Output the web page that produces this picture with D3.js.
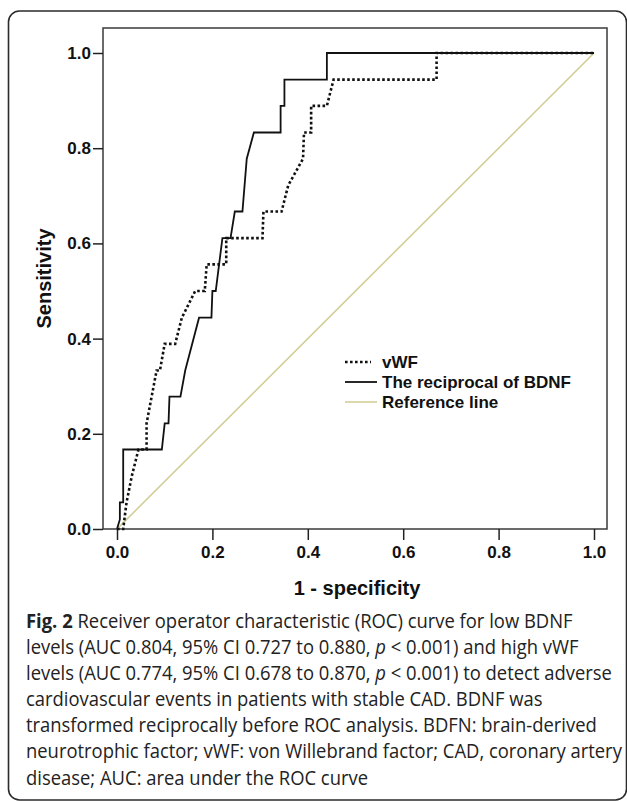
<!DOCTYPE html>
<html>
<head>
<meta charset="utf-8">
<script src="https://cdn.jsdelivr.net/npm/d3@7"></script>
<style>
  body { margin: 0; background: #fff; }
  svg { display: block; }
</style>
</head>
<body>
<svg></svg>
<script>
// ROC data (x = 1 - specificity, y = sensitivity)
const vwfX = [0, 0.013, 0.02, 0.031, 0.045, 0.062, 0.062, 0.083, 0.09, 0.1, 0.122, 0.136, 0.164, 0.184, 0.188, 0.229, 0.229, 0.305, 0.307, 0.345, 0.359, 0.39, 0.392, 0.407, 0.407, 0.44, 0.454, 0.67, 0.67, 1];
const vwfY = [0, 0, 0.056, 0.111, 0.167, 0.167, 0.222, 0.333, 0.333, 0.389, 0.389, 0.444, 0.5, 0.5, 0.556, 0.556, 0.611, 0.611, 0.667, 0.667, 0.722, 0.778, 0.833, 0.833, 0.889, 0.889, 0.944, 0.944, 1, 1];

const bdnfX = [0, 0.006, 0.006, 0.013, 0.013, 0.094, 0.1, 0.108, 0.11, 0.133, 0.143, 0.172, 0.198, 0.2, 0.207, 0.221, 0.238, 0.247, 0.263, 0.272, 0.287, 0.343, 0.343, 0.351, 0.351, 0.44, 0.44, 1];
const bdnfY = [0, 0.02, 0.056, 0.056, 0.167, 0.167, 0.222, 0.222, 0.278, 0.278, 0.333, 0.444, 0.444, 0.5, 0.5, 0.611, 0.611, 0.667, 0.667, 0.778, 0.833, 0.833, 0.889, 0.889, 0.944, 0.944, 1, 1];

const refX = [0, 1];
const refY = [0, 1];

const tickValues = [0, 0.2, 0.4, 0.6, 0.8, 1.0];
const legendLabels = ["vWF", "The reciprocal of BDNF", "Reference line"];

const captionLines = [
  [{ t: "Fig. 2", b: true }, { t: " Receiver operator characteristic (ROC) curve for low BDNF" }],
  [{ t: "levels (AUC 0.804, 95% CI 0.727 to 0.880, " }, { t: "p", i: true }, { t: " < 0.001) and high vWF" }],
  [{ t: "levels (AUC 0.774, 95% CI 0.678 to 0.870, " }, { t: "p", i: true }, { t: " < 0.001) to detect adverse" }],
  [{ t: "cardiovascular events in patients with stable CAD. BDNF was" }],
  [{ t: "transformed reciprocally before ROC analysis. BDFN: brain-derived" }],
  [{ t: "neurotrophic factor; vWF: von Willebrand factor; CAD, coronary artery" }],
  [{ t: "disease; AUC: area under the ROC curve" }]
];

const width = 627;
const height = 801;

const svg = d3.select("svg")
  .attr("width", width)
  .attr("height", height);

// outer rounded frame
svg.append("rect")
  .attr("x", 8.5).attr("y", 11)
  .attr("width", 618).attr("height", 789)
  .attr("rx", 11)
  .attr("fill", "none")
  .attr("stroke", "#2b2b2b")
  .attr("stroke-width", 1.6);

// scales: 0 -> 117px, 1 -> 594px ; y 0 -> 529px, 1 -> 53px
const x = d3.scaleLinear().domain([0, 1]).range([117, 594]);
const y = d3.scaleLinear().domain([0, 1]).range([529, 53]);

const boxL = 103, boxR = 607, boxT = 28, boxB = 529;

// plot box
svg.append("rect")
  .attr("x", boxL).attr("y", boxT)
  .attr("width", boxR - boxL).attr("height", boxB - boxT)
  .attr("fill", "none")
  .attr("stroke", "#3a3a3a")
  .attr("stroke-width", 1.5);

const tickFont = "'Liberation Sans', Arial, sans-serif";

// y axis
const yAxis = d3.axisLeft(y).tickValues(tickValues).tickFormat(d3.format(".1f")).tickSize(10).tickPadding(2);
const gy = svg.append("g").attr("transform", `translate(${boxL},0)`).call(yAxis);
gy.select(".domain").remove();
gy.selectAll("line").attr("stroke", "#222").attr("stroke-width", 1.5);
gy.selectAll("text")
  .attr("fill", "#111")
  .style("font-family", tickFont)
  .style("font-weight", "bold")
  .style("font-size", "17px");

// x axis
const xAxis = d3.axisBottom(x).tickValues(tickValues).tickFormat(d3.format(".1f")).tickSize(11).tickPadding(6);
const gx = svg.append("g").attr("transform", `translate(0,${boxB})`).call(xAxis);
gx.select(".domain").remove();
gx.selectAll("line").attr("stroke", "#222").attr("stroke-width", 1.5);
gx.selectAll("text")
  .attr("fill", "#111")
  .style("font-family", tickFont)
  .style("font-weight", "bold")
  .style("font-size", "17px");

// axis titles
svg.append("text")
  .attr("x", (boxL + boxR) / 2 + 2)
  .attr("y", 595)
  .attr("text-anchor", "middle")
  .attr("fill", "#111")
  .style("font-family", tickFont)
  .style("font-weight", "bold")
  .style("font-size", "20px")
  .text("1 - specificity");

svg.append("text")
  .attr("transform", `translate(51,${(boxT + boxB) / 2}) rotate(-90)`)
  .attr("text-anchor", "middle")
  .attr("fill", "#111")
  .style("font-family", tickFont)
  .style("font-weight", "bold")
  .style("font-size", "20px")
  .text("Sensitivity");

const line = d3.line().x(d => x(d[0])).y(d => y(d[1]));

// reference line
svg.append("path")
  .datum(d3.zip(refX, refY))
  .attr("d", line)
  .attr("fill", "none")
  .attr("stroke", "#d3cd97")
  .attr("stroke-width", 1.6);

// BDNF (solid)
svg.append("path")
  .datum(d3.zip(bdnfX, bdnfY))
  .attr("d", line)
  .attr("fill", "none")
  .attr("stroke", "#111")
  .attr("stroke-width", 1.8);

// vWF (dotted)
svg.append("path")
  .datum(d3.zip(vwfX, vwfY))
  .attr("d", line)
  .attr("fill", "none")
  .attr("stroke", "#111")
  .attr("stroke-width", 2.6)
  .attr("stroke-dasharray", "2.6,2.4");

// legend
const legendStyles = [
  { stroke: "#111", width: 2.6, dash: "2.6,2.4", x2: 371 },
  { stroke: "#111", width: 1.8, dash: null, x2: 377 },
  { stroke: "#d3cd97", width: 1.6, dash: null, x2: 377 }
];
const legend = svg.append("g");
legendLabels.forEach((label, i) => {
  const cy = 362 + i * 20;
  const st = legendStyles[i];
  legend.append("line")
    .attr("x1", 345).attr("x2", st.x2)
    .attr("y1", cy).attr("y2", cy)
    .attr("stroke", st.stroke)
    .attr("stroke-width", st.width)
    .attr("stroke-dasharray", st.dash);
  legend.append("text")
    .attr("x", 382)
    .attr("y", cy + 6)
    .attr("fill", "#111")
    .style("font-family", tickFont)
    .style("font-weight", "bold")
    .style("font-size", "17px")
    .text(label);
});

// caption
const cap = svg.append("g");
const capNodes = captionLines.map((parts, i) => {
  const t = cap.append("text")
    .attr("x", 26)
    .attr("y", 628 + i * 26.1)
    .attr("fill", "#222")
    .style("font-family", "'Open Sans', 'Noto Sans', sans-serif")
    .style("font-size", "20px");
  parts.forEach(p => {
    t.append("tspan")
      .style("font-weight", p.b ? "bold" : null)
      .style("font-style", p.i ? "italic" : null)
      .text(p.t);
  });
  return t;
});

// squeeze caption horizontally so the longest line fits the frame
const longest = d3.max(capNodes, t => t.node().getComputedTextLength());
const sx = 596 / longest;
capNodes.forEach(t => t.attr("transform", `translate(26,0) scale(${sx},1) translate(-26,0)`));
</script>
</body>
</html>
